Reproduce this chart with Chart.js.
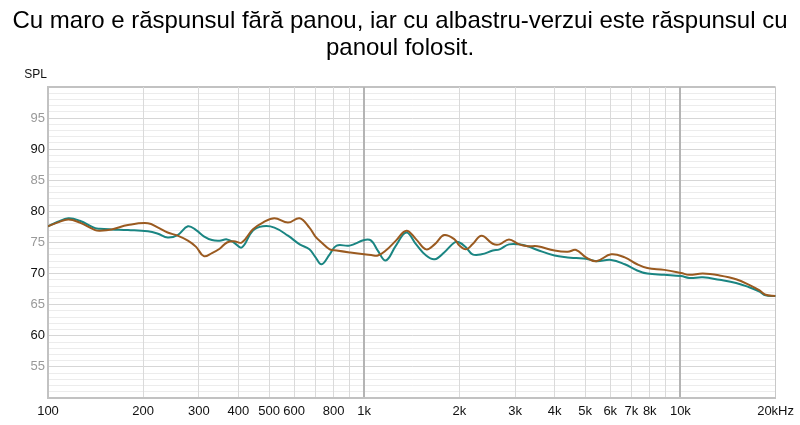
<!DOCTYPE html>
<html>
<head>
<meta charset="utf-8">
<script src="https://cdn.jsdelivr.net/npm/chart.js@4.4.1/dist/chart.umd.min.js"></script>
<style>
  html, body { margin: 0; padding: 0; background: #fff; }
  #wrap { width: 800px; height: 425px; position: relative; }
</style>
</head>
<body>
<div id="wrap"><canvas id="splChart" width="800" height="425"></canvas></div>
<script>
// Frequency response, with and without the panel

const titleLines = [
    'Cu maro e răspunsul fără panou, iar cu albastru-verzui este răspunsul cu',
    'panoul folosit.'
];

// frequencies (Hz) where the curves were read
const freqs = [
    100, 107, 116, 126, 141, 146, 159, 179, 207, 223,
    239, 257, 277, 294, 311, 330, 349, 368, 387, 410,
    444, 478, 520, 574, 625, 671, 700, 733, 778, 818,
    899, 1000, 1052, 1104, 1170, 1260, 1360, 1460, 1570, 1670,
    1790, 1930, 2000, 2100, 2200, 2350, 2550, 2680, 2870, 3090,
    3290, 3530, 4000, 4400, 4680, 5030, 5420, 6040, 6670, 7300,
    7860, 8900, 10050, 10660, 11780, 13300, 15000, 16500, 17800, 18600,
    20000
];

// brown: without panel (dB SPL)
const noPanel = [
    77.6, 78.2, 78.7, 78.2, 77.0, 76.9, 77.1, 77.8, 78.1, 77.4,
    76.6, 76.1, 75.3, 74.3, 72.8, 73.3, 74.0, 75.0, 75.2, 75.0,
    77.1, 78.2, 78.9, 78.2, 78.9, 77.4, 76.0, 75.0, 73.9, 73.7,
    73.4, 73.1, 73.0, 72.9, 73.7, 75.3, 76.9, 75.5, 73.9, 74.7,
    76.2, 75.5, 74.5, 73.9, 74.7, 76.1, 74.8, 74.7, 75.5, 74.7,
    74.4, 74.4, 73.7, 73.5, 73.8, 72.6, 72.0, 73.1, 72.6, 71.5,
    70.9, 70.6, 70.1, 69.8, 70.0, 69.7, 69.1, 68.2, 67.3, 66.6,
    66.4
];

// teal: with panel (dB SPL)
const withPanel = [
    77.6, 78.3, 78.9, 78.5, 77.3, 77.2, 77.1, 77.0, 76.8, 76.4,
    75.8, 76.2, 77.6, 77.0, 76.0, 75.4, 75.3, 75.5, 75.0, 74.2,
    76.9, 77.6, 77.4, 76.1, 74.7, 73.9, 72.7, 71.5, 73.1, 74.5,
    74.5, 75.4, 75.3, 73.7, 72.1, 74.5, 76.6, 74.7, 72.9, 72.3,
    73.4, 75.0, 75.0, 74.2, 73.1, 73.1, 73.7, 73.9, 74.7, 74.7,
    74.4, 73.8, 72.9, 72.6, 72.5, 72.4, 72.0, 72.2, 71.5, 70.5,
    70.0, 69.8, 69.6, 69.3, 69.4, 69.0, 68.5, 67.8, 67.1, 66.5,
    66.4
];

// x axis gridlines and their labels ('' = gridline only)
const xTicks = [
    100, 200, 300, 400, 500, 600, 700, 800, 900,
    1000, 2000, 3000, 4000, 5000, 6000, 7000, 8000, 9000,
    10000, 20000
];
const xTickLabels = [
    '100', '200', '300', '400', '500', '600', '', '800', '',
    '1k', '2k', '3k', '4k', '5k', '6k', '7k', '8k', '',
    '10k', '20kHz'
];

// y axis labels
const yLabels = [55, 60, 65, 70, 75, 80, 85, 90, 95];

const FONT = '"Liberation Sans", Arial, Helvetica, sans-serif';

const textPlugin = {
    id: 'textPlugin',
    afterDraw(chart) {
        const c = chart.ctx;
        c.save();
        c.fillStyle = '#000';
        c.textAlign = 'center';
        c.textBaseline = 'alphabetic';
        c.font = '24px ' + FONT;
        c.fillText(titleLines[0], 400, 28);
        c.fillText(titleLines[1], 400, 55);
        c.font = '12px ' + FONT;
        c.textAlign = 'right';
        c.textBaseline = 'middle';
        c.fillStyle = '#111';
        c.fillText('SPL', chart.chartArea.left - 1, 75);
        c.restore();
    }
};

new Chart(document.getElementById('splChart'), {
    type: 'line',
    data: {
        datasets: [
            {
                label: 'Fără panou',
                data: freqs.map((f, i) => ({ x: f, y: noPanel[i] })),
                borderColor: '#9a5a20',
                borderWidth: 2,
                pointRadius: 0,
                tension: 0.4,
                fill: false
            },
            {
                label: 'Cu panou',
                data: freqs.map((f, i) => ({ x: f, y: withPanel[i] })),
                borderColor: '#1a8582',
                borderWidth: 2,
                pointRadius: 0,
                tension: 0.4,
                fill: false
            }
        ]
    },
    options: {
        responsive: false,
        animation: false,
        devicePixelRatio: 1,
        layout: { padding: { top: 87, right: 24, left: 0, bottom: 0 } },
        plugins: {
            legend: { display: false },
            title: { display: false },
            tooltip: { enabled: false }
        },
        scales: {
            x: {
                type: 'logarithmic',
                min: 100,
                max: 20000,
                afterBuildTicks: (scale) => {
                    scale.ticks = xTicks.map(v => ({ value: v }));
                },
                afterFit: (scale) => { scale.height = 27; },
                ticks: {
                    autoSkip: false,
                    maxRotation: 0,
                    padding: 6,
                    color: '#111',
                    font: { family: FONT, size: 13 },
                    callback: (value) => {
                        const idx = xTicks.indexOf(value);
                        return idx >= 0 ? xTickLabels[idx] : '';
                    }
                },
                grid: {
                    z: -1,
                    drawTicks: false,
                    color: (ctx) => {
                        const v = ctx.tick && ctx.tick.value;
                        if (v === 1000 || v === 10000) return '#b4b4b4';
                        if (v === 20000) return '#c8c8c8';
                        return '#dadada';
                    },
                    lineWidth: (ctx) => {
                        const v = ctx.tick && ctx.tick.value;
                        return (v === 1000 || v === 10000) ? 2 : 1;
                    }
                },
                border: { display: true, color: '#c2c2c2', width: 2 }
            },
            y: {
                min: 50,
                max: 100,
                afterFit: (scale) => { scale.width = 48; },
                ticks: {
                    stepSize: 1,
                    autoSkip: false,
                    padding: 3,
                    font: { family: FONT, size: 13 },
                    color: (ctx) => (ctx.tick.value % 10 === 0 ? '#111' : '#999'),
                    callback: (value) => (yLabels.includes(value) ? String(value) : '')
                },
                grid: {
                    z: -2,
                    drawTicks: false,
                    color: (ctx) => {
                        const v = ctx.tick.value;
                        if (v === 100) return '#c2c2c2';
                        return v % 5 === 0 ? '#d6d6d6' : '#ececec';
                    },
                    lineWidth: (ctx) => (ctx.tick.value === 100 ? 2 : 1)
                },
                border: { display: true, color: '#c2c2c2', width: 2 }
            }
        }
    },
    plugins: [textPlugin]
});
</script>
</body>
</html>
